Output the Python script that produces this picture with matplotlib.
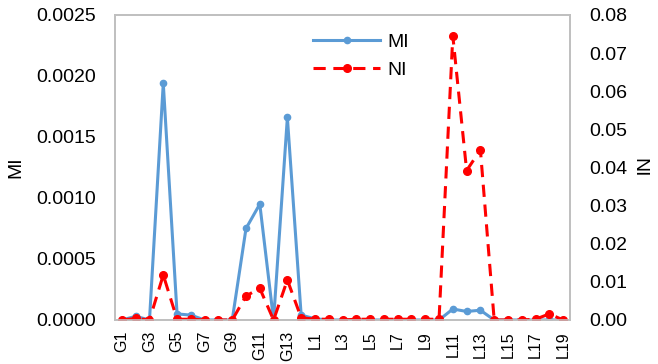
import numpy as np
import matplotlib.pyplot as plt

plt.rcParams['font.family'] = ['Liberation Sans', 'DejaVu Sans']
FONTSIZE = 14
XFONTSIZE = 11.5

# categories: G1..G14, then L1..L19
categories = ['G%d' % i for i in range(1, 15)] + ['L%d' % i for i in range(1, 20)]

mi = [0.0, 0.00003, 0.0, 0.00194, 0.00005, 0.00004, 0.0, 0.0, 0.0, 0.00075,
      0.00095, 0.0, 0.00166, 0.00004,
      0.00001, 0.0, 0.0, 0.0, 0.0, 0.0, 0.0, 0.0, 0.0, 0.0,
      0.00009, 0.00007, 0.00008, 0.0, 0.0, 0.0, 0.0, 0.0, 0.0]

ni = [0.0, 0.0004, 0.0, 0.0118, 0.0002, 0.0002, 0.0, 0.0, 0.0, 0.0063,
      0.0083, 0.0, 0.0105, 0.0006,
      0.0002, 0.0002, 0.0, 0.0002, 0.0002, 0.0002, 0.0002, 0.0002, 0.0002, 0.0002,
      0.0745, 0.0392, 0.0446, 0.0, 0.0, 0.0, 0.0002, 0.0016, 0.0]

mi_ticks = np.arange(0, 0.00251, 0.0005)
ni_ticks = np.arange(0, 0.0801, 0.01)

x = np.arange(len(categories))

fig = plt.figure(figsize=(6.58, 3.64), dpi=100)
ax = fig.add_axes([0.1748, 0.1209, 0.6915, 0.8379])
ax2 = ax.twinx()

l1, = ax.plot(x, mi, '-o', color='#5B9BD5', linewidth=2.2, markersize=4.5, label='MI')
l2, = ax2.plot(x, ni, '--o', color='#FF0000', linewidth=2.2, markersize=5.5,
               dashes=(4, 2.5), label='NI')

ax.set_xlim(-0.5, len(categories) - 0.5)
ax.set_ylim(0, 0.0025)
ax2.set_ylim(0, 0.08)
ax.set_yticks(mi_ticks)
ax2.set_yticks(ni_ticks)
ax.set_yticklabels(['%.4f' % v for v in mi_ticks])
ax2.set_yticklabels(['%.2f' % v for v in ni_ticks])

ax.set_xticks(x[::2])
ax.set_xticklabels(categories[::2], rotation=90)

for a in (ax, ax2):
    a.tick_params(length=0, labelsize=FONTSIZE, pad=14)
    for s in a.spines.values():
        s.set_color('#BFBFBF')
        s.set_linewidth(1.2)
ax.tick_params(axis='x', pad=8, labelsize=XFONTSIZE)

ax.set_ylabel('MI', fontsize=FONTSIZE, labelpad=8)
ax2.set_ylabel('NI', fontsize=FONTSIZE, rotation=270, labelpad=14)

fig.legend(handles=[l1, l2], loc='upper left', bbox_to_anchor=(313 / 658, 1 - 33 / 364),
           frameon=False, fontsize=FONTSIZE, handlelength=3.45, handletextpad=0.4,
           labelspacing=0.55, borderpad=0, borderaxespad=0)

fig.savefig('out.png', dpi=100)
